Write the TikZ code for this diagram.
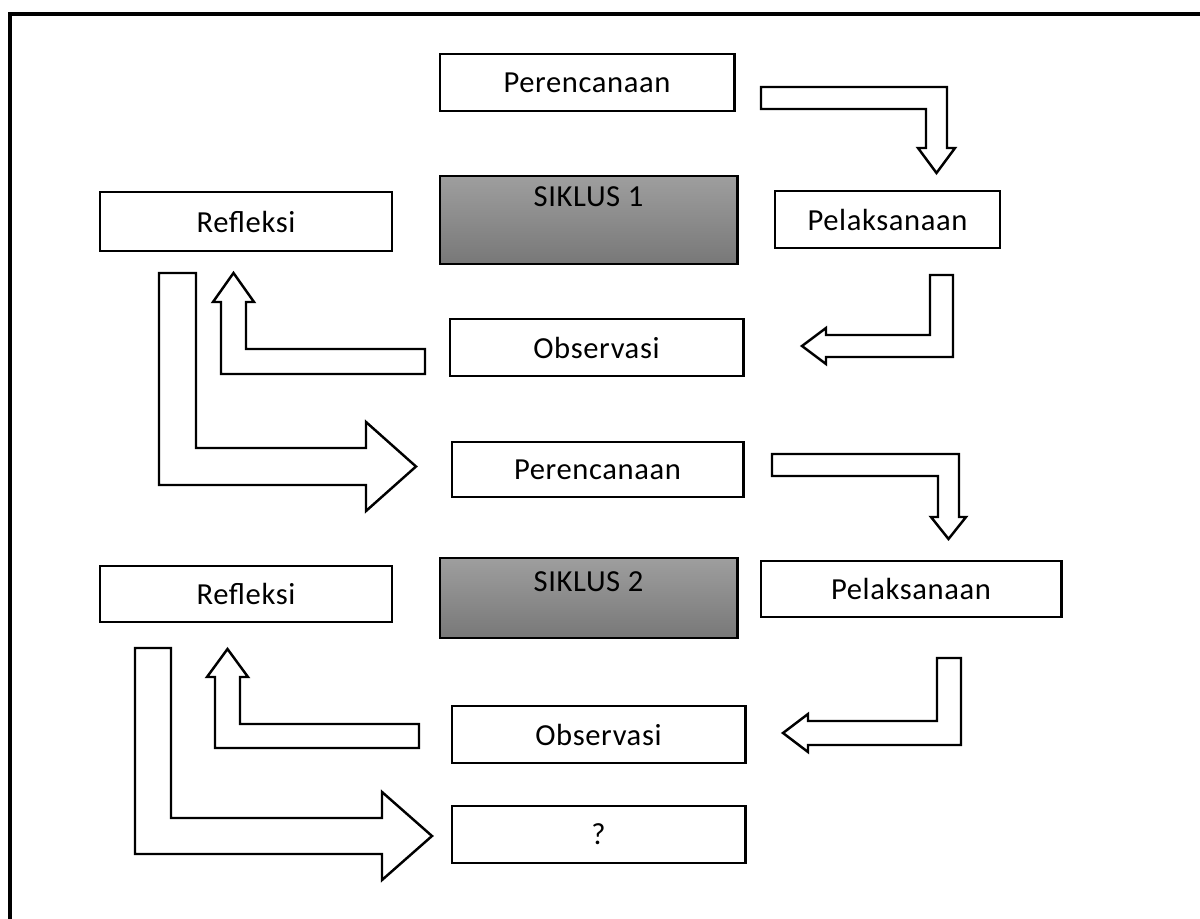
\documentclass[tikz,border=0pt]{standalone}
\usepackage{fontspec}
\setmainfont{Carlito}[LetterSpace=2]
\begin{document}
\begin{tikzpicture}[x=0.01cm, y=-0.01cm,
  every node/.style={font=\fontsize{8.7}{10}\selectfont},
  box/.style={draw, line width=0.8pt, fill=white, minimum height=0.57cm, inner sep=0pt},
  siklus/.style={draw, line width=0.8pt, top color=black!38, bottom color=black!53,
                 minimum width=2.97cm, inner sep=0pt},
  blok/.style={draw, line width=0.7pt, fill=white, line join=miter}]

  \useasboundingbox (0,0) rectangle (1200,919);

  % Bingkai halaman (terpotong di kanan dan bawah).
  \draw[line width=1.15pt] (10,919) -- (10,14) -- (1200,14);

  % Siklus 1.
  \node[box, minimum width=2.94cm] (per1) at (587,82.5) {Perencanaan};
  \node[siklus, minimum height=0.88cm] (sik1) at (588.5,220) {};
  \node (sik1t) at (588.5,197) {SIKLUS 1};
  \node[box, minimum width=2.25cm] (pel1) at (887.5,219.5) {Pelaksanaan};
  \node[box, minimum width=2.92cm, minimum height=0.59cm] (ref1) at (246,221.5) {Refleksi};
  \node[box, minimum width=2.93cm] (obs1) at (596.5,347.5) {Observasi};

  % Siklus 2.
  \node[box, minimum width=2.91cm, minimum height=0.55cm] (per2) at (597.5,469.5) {Perencanaan};
  \node[siklus, minimum height=0.80cm] (sik2) at (588.5,598) {};
  \node (sik2t) at (588.5,582) {SIKLUS 2};
  \node[box, minimum width=3.00cm, minimum height=0.56cm] (pel2) at (911,589) {Pelaksanaan};
  \node[box, minimum width=2.92cm, minimum height=0.56cm] (ref2) at (246,594) {Refleksi};
  \node[box, minimum width=2.93cm] (obs2) at (598.5,734.5) {Observasi};
  \node[box, minimum width=2.93cm] (tanya) at (598.5,834.5) {?};

  % Panah blok siklus 1.
  \draw[blok] (761,87) -- (947,87) -- (947,148) -- (955,148) -- (936.5,173)
        -- (918,148) -- (926,148) -- (926,109) -- (761,109) -- cycle;
  \draw[blok] (930,275) -- (953,275) -- (953,357) -- (826,357) -- (826,364)
        -- (802,346) -- (826,328) -- (826,335) -- (930,335) -- cycle;
  \draw[blok] (425,349) -- (425,374) -- (221,374) -- (221,302) -- (213,302)
        -- (233.5,273) -- (254,302) -- (246,302) -- (246,349) -- cycle;
  \draw[blok] (159,273) -- (196,273) -- (196,448) -- (366,448) -- (366,422)
        -- (416,466.5) -- (366,511) -- (366,485) -- (159,485) -- cycle;

  % Panah blok siklus 2.
  \draw[blok] (772,454) -- (959,454) -- (959,517) -- (966,517) -- (948.5,539)
        -- (931,517) -- (938,517) -- (938,476) -- (772,476) -- cycle;
  \draw[blok] (937,658) -- (961,658) -- (961,745) -- (808,745) -- (808,752)
        -- (783,733) -- (808,714) -- (808,721) -- (937,721) -- cycle;
  \draw[blok] (419,724) -- (419,748) -- (215,748) -- (215,677) -- (207,677)
        -- (227.5,649) -- (248,677) -- (240,677) -- (240,724) -- cycle;
  \draw[blok] (135,648) -- (171,648) -- (171,818) -- (382,818) -- (382,792)
        -- (432,836) -- (382,880) -- (382,854) -- (135,854) -- cycle;

\end{tikzpicture}
\end{document}
